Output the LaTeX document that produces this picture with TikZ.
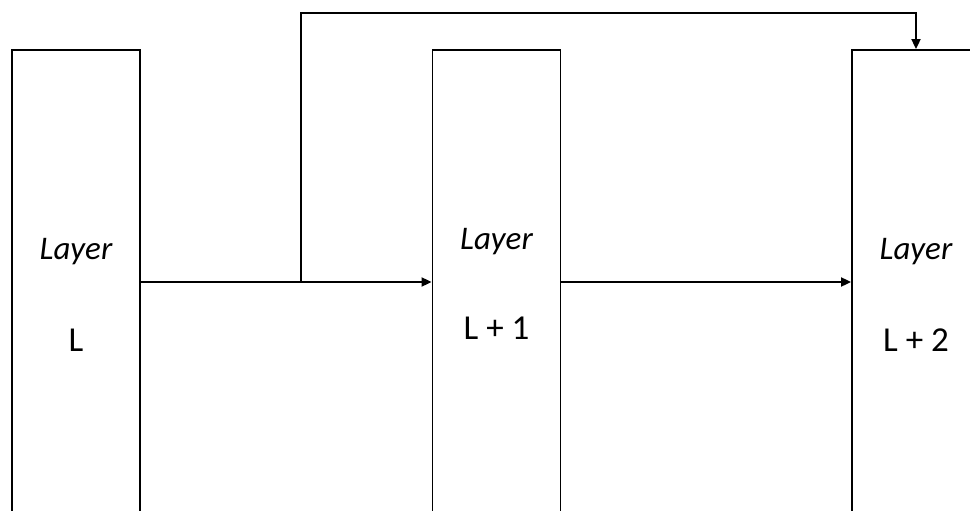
\documentclass[tikz,border=0pt]{standalone}
\usepackage{fontspec}
\setmainfont{Carlito}
\usetikzlibrary{arrows.meta, positioning}
\tikzset{
  layerbox/.style={draw, line width=1.8pt, minimum width=128pt,
    minimum height=560pt, inner sep=0pt},
  layername/.style={font=\fontsize{33}{36}\selectfont\itshape},
  layerindex/.style={font=\fontsize{35}{38}\selectfont},
  flow/.style={line width=1.8pt, -{Triangle[length=10pt, width=9pt]}},
}
\begin{document}
\begin{tikzpicture}[x=1pt, y=-1pt]
  \useasboundingbox (0,0) rectangle (970,511);
  \clip (0,0) rectangle (970,511);

  \node[layerbox] (b1) at (76, 330) {};
  \node[layername] at (76, 252) {Layer};
  \node[layerindex] at (76, 340) {L};

  \node[layerbox] (b2) at (496.5, 330) {};
  \node[layername] at (496.5, 242) {Layer};
  \node[layerindex] at (496.5, 328) {L + 1};

  \node[layerbox] (b3) at (916, 330) {};
  \node[layername] at (916, 252) {Layer};
  \node[layerindex] at (916, 340) {L + 2};

  \coordinate (split) at (301, 282);
  \coordinate (skip) at (916, 13);

  \draw[flow] (split -| b1.east) -- (split -| b2.west);
  \draw[flow] (split -| b2.east) -- (split -| b3.west);
  \draw[flow] (split) |- (skip) -- (skip |- b3.north);
\end{tikzpicture}
\end{document}
